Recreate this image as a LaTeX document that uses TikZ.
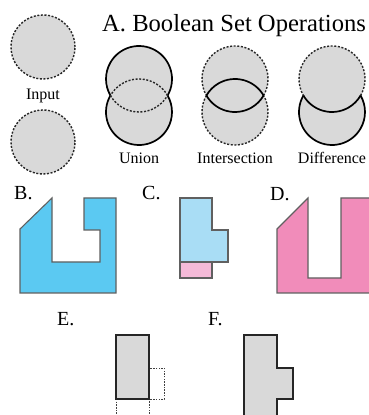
\documentclass[tikz,border=0pt]{standalone}
\usepackage{fontspec}
\setmainfont{Liberation Serif}
\definecolor{cfill}{HTML}{D9D9D9}
\definecolor{bblue}{HTML}{5BC9F2}
\definecolor{lblue}{HTML}{A9DDF5}
\definecolor{lpink}{HTML}{F5BAD8}
\definecolor{dpink}{HTML}{F18CBA}
\definecolor{edge}{HTML}{606060}
\tikzset{
  solidarc/.style={draw=black, line width=1.7pt},
  dasharc/.style={draw=black!85, line width=1.4pt, dash pattern=on 2pt off 1.6pt},
  lbl/.style={font=\fontsize{16}{18}\selectfont, anchor=base, inner sep=0pt},
  letter/.style={font=\fontsize{20}{22}\selectfont, anchor=base west, inner sep=0pt},
  shapeedge/.style={draw=edge, line width=1.1pt, line join=miter},
  thickbox/.style={draw=black!85, line width=1.7pt, fill=cfill},
  thinbox/.style={draw=black!75, line width=0.9pt, dash pattern=on 1.5pt off 1.2pt}
}
\begin{document}
\begin{tikzpicture}[x=1pt,y=1pt]
\clip (0,0) rectangle (369,415);
\fill[white] (0,0) rectangle (369,415);
% title
\node[font=\fontsize{24.6}{28}\selectfont, anchor=base west, inner sep=0pt] (title) at (102,383) {A. Boolean Set Operations};
% input circles
\coordinate (i1) at (43,368);
\coordinate (i2) at (43,273);
\fill[cfill] (i1) circle[radius=32];
\draw[dasharc] (i1) circle[radius=32];
\fill[cfill] (i2) circle[radius=32];
\draw[dasharc] (i2) circle[radius=32];
\node[lbl] (inp) at (43,315) {Input};
% union
\coordinate (ut) at (139,336);
\coordinate (ub) at (139,303);
\fill[cfill] (ut) circle[radius=33] (ub) circle[radius=33];
\draw[solidarc] (ut) ++(-30:33) arc[start angle=-30, end angle=210, radius=33];
\draw[solidarc] (ub) ++(150:33) arc[start angle=150, end angle=390, radius=33];
\draw[dasharc] (ut) ++(210:33) arc[start angle=210, end angle=330, radius=33];
\draw[dasharc] (ub) ++(30:33) arc[start angle=30, end angle=150, radius=33];
\node[lbl] (un) at (139,251.5) {Union};
% intersection
\coordinate (nt) at (235,336);
\coordinate (nb) at (235,303);
\fill[cfill] (nt) circle[radius=33] (nb) circle[radius=33];
\draw[dasharc] (nt) ++(-30:33) arc[start angle=-30, end angle=210, radius=33];
\draw[dasharc] (nb) ++(150:33) arc[start angle=150, end angle=390, radius=33];
\draw[solidarc] (nt) ++(210:33) arc[start angle=210, end angle=330, radius=33];
\draw[solidarc] (nb) ++(30:33) arc[start angle=30, end angle=150, radius=33];
\node[lbl] (in) at (235,251.5) {Intersection};
% difference
\coordinate (dt) at (332,336);
\coordinate (db) at (332,303);
\fill[cfill] (dt) circle[radius=33] (db) circle[radius=33];
\draw[dasharc] (dt) ++(-30:33) arc[start angle=-30, end angle=210, radius=33];
\draw[solidarc] (dt) ++(210:33) arc[start angle=210, end angle=330, radius=33];
\draw[solidarc] (db) ++(150:33) arc[start angle=150, end angle=390, radius=33];
\node[lbl] (df) at (332,251.5) {Difference};
% B
\node[letter] (lb) at (14,215) {B.};
\draw[shapeedge, fill=bblue] (20,186) -- (52,217) -- (52,153) -- (100,153) -- (100,185) -- (84,185) -- (84,217) -- (116,217) -- (116,122) -- (20,122) -- cycle;
% C
\node[letter] (lc) at (142,215) {C.};
\draw[shapeedge, fill=lblue] (180,217) -- (212,217) -- (212,185) -- (228,185) -- (228,153) -- (180,153) -- cycle;
\draw[shapeedge, fill=lpink] (180,153) rectangle (212,137);
% D
\node[letter] (ld) at (270,214) {D.};
\draw[shapeedge, fill=dpink] (277,186) -- (308,217) -- (308,137) -- (341,137) -- (341,217) -- (373,217) -- (373,122) -- (277,122) -- cycle;
% E
\node[letter] (le) at (57,89) {E.};
\draw[thinbox] (149,47) rectangle (164,16);
\draw[thinbox] (116,16) rectangle (149,-10);
\draw[thickbox] (116,80) rectangle (149,16);
% F
\node[letter] (lf) at (208,89) {F.};
\draw[thickbox] (244,80) -- (277,80) -- (277,47) -- (293,47) -- (293,16) -- (277,16) -- (277,-10) -- (244,-10) -- cycle;
\end{tikzpicture}
\end{document}
